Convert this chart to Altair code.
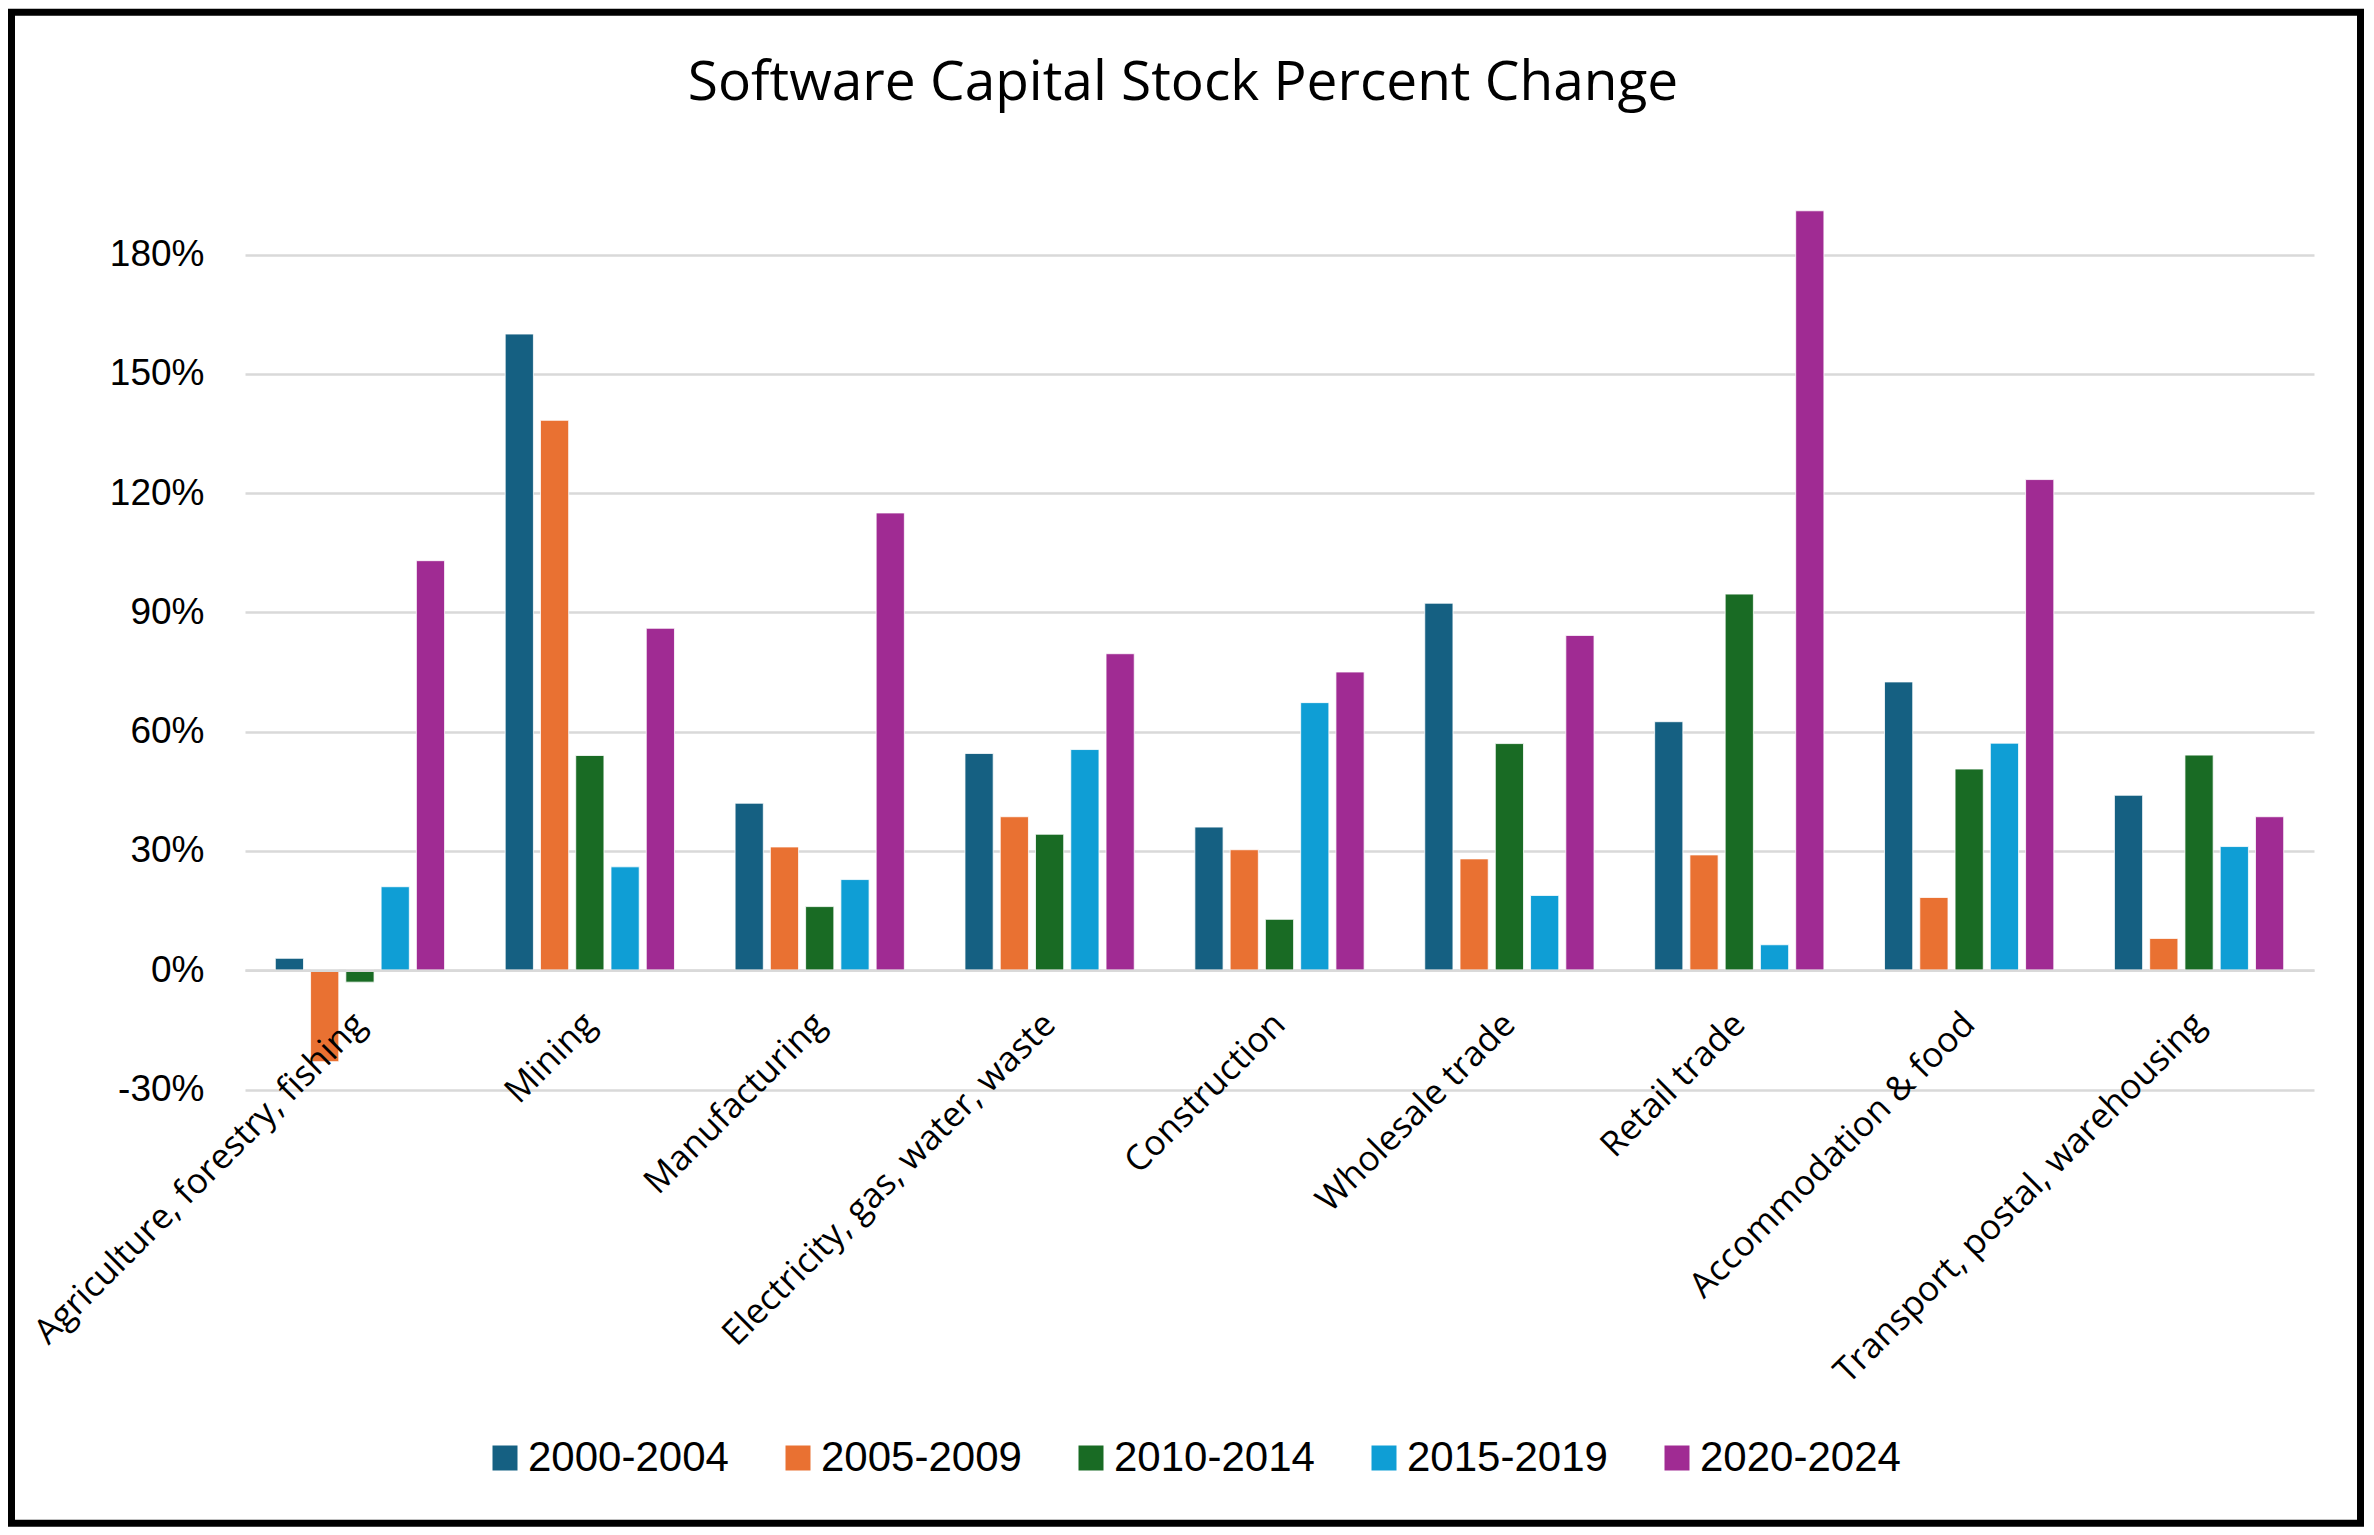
import altair as alt
import pandas as pd

categories = [
    "Agriculture, forestry, fishing",
    "Mining",
    "Manufacturing",
    "Electricity, gas, water, waste",
    "Construction",
    "Wholesale trade",
    "Retail trade",
    "Accommodation & food",
    "Transport, postal, warehousing",
]
periods = ["2000-2004", "2005-2009", "2010-2014", "2015-2019", "2020-2024"]
colors = ["#156082", "#E97132", "#196B24", "#0F9ED5", "#A02B93"]

v_2000_2004 = [3, 160, 42, 54.5, 36, 92.3, 62.5, 72.5, 44]
v_2005_2009 = [-23, 138.3, 31, 38.6, 30.3, 28, 29, 18.3, 8]
v_2010_2014 = [-3, 54, 16, 34.2, 12.8, 57, 94.6, 50.6, 54.1]
v_2015_2019 = [21, 26, 22.8, 55.5, 67.3, 18.8, 6.4, 57.1, 31.1]
v_2020_2024 = [103, 86, 115, 79.6, 75, 84.2, 191, 123.4, 38.6]

y_ticks = [-30, 0, 30, 60, 90, 120, 150, 180]
title_text = "Software Capital Stock Percent Change"

series = [v_2000_2004, v_2005_2009, v_2010_2014, v_2015_2019, v_2020_2024]
rows = []
for p, vals in zip(periods, series):
    for c, v in zip(categories, vals):
        rows.append({"Industry": c, "Period": p, "Change": v})
df = pd.DataFrame(rows)

W = 2069
H = 914.5

bars = alt.Chart(df).mark_bar(stroke="white", strokeWidth=0.8).encode(
    x=alt.X(
        "Industry:N",
        sort=categories,
        scale=alt.Scale(paddingInner=0.233, paddingOuter=0.1165),
        axis=alt.Axis(
            title=None,
            labelAngle=-45,
            labelAlign="right",
            labelBaseline="middle",
            labelFont="Open Sans",
            labelFontSize=35,
            labelColor="black",
            labelPadding=48,
            ticks=False,
            domain=True,
            domainColor="#D9D9D9",
            domainWidth=2.5,
            offset=-119.3,
            grid=False,
            labelLimit=1000,
            zindex=1,
        ),
    ),
    xOffset=alt.XOffset(
        "Period:N",
        sort=periods,
        scale=alt.Scale(paddingInner=0.2, paddingOuter=0.1),
    ),
    y=alt.Y(
        "Change:Q",
        scale=alt.Scale(domain=[-30, 200], nice=False, zero=True),
        axis=alt.Axis(
            title=None,
            values=y_ticks,
            labelExpr="datum.value + '%'",
            labelFont="Liberation Sans",
            labelFontSize=37,
            labelColor="black",
            labelPadding=41,
            ticks=False,
            domain=False,
            grid=True,
            gridColor="#D9D9D9",
            gridWidth=2.5,
        ),
    ),
    color=alt.Color(
        "Period:N",
        sort=periods,
        scale=alt.Scale(domain=periods, range=colors),
        legend=alt.Legend(
            title=None,
            orient="none",
            direction="horizontal",
            legendX=239,
            legendY=1262,
            symbolType="square",
            symbolSize=625,
            symbolStrokeWidth=0,
            labelFont="Liberation Sans",
            labelFontSize=42,
            labelColor="black",
            labelOffset=2,
            columnPadding=48,
            padding=0,
            labelLimit=1000,
        ),
    ),
)

title_df = pd.DataFrame({"t": [title_text]})
title = alt.Chart(title_df).mark_text(
    font="Open Sans", fontSize=55, color="black", align="center", baseline="alphabetic"
).encode(text="t:N", x=alt.value(938), y=alt.value(-75.3))

frame_df = pd.DataFrame({"a": [0]})
frame = alt.Chart(frame_df).mark_rect(
    fillOpacity=0, fill="white", stroke="black", strokeWidth=7
).encode(
    x=alt.value(-233.5), x2=alt.value(2115.5), y=alt.value(-162.8), y2=alt.value(1348.2)
)

chart = alt.layer(bars, title, frame).properties(
    width=W, height=H, padding=0, background="white"
).configure_view(stroke=None)

chart.save("out.html", embed_options={"renderer": "svg", "actions": False})
